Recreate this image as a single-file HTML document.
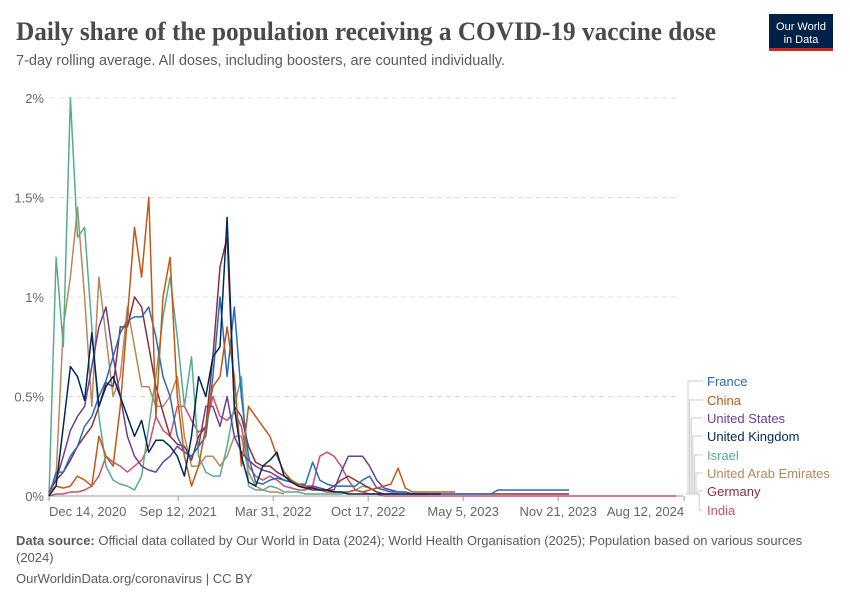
<!DOCTYPE html>
<html><head><meta charset="utf-8"><style>
body{margin:0;background:#fff;}
svg{display:block;font-family:"Liberation Sans",sans-serif;}
</style></head><body>
<svg id="chart" width="850" height="600" viewBox="0 0 850 600">
<text x="16" y="40" font-family="Liberation Serif,serif" font-weight="bold" font-size="26" fill="#4a4a4a" textLength="700" lengthAdjust="spacingAndGlyphs">Daily share of the population receiving a COVID-19 vaccine dose</text>
<text x="16" y="65" font-size="14.5" fill="#5b5b5b">7-day rolling average. All doses, including boosters, are counted individually.</text>
<g>
<rect x="769" y="14" width="64" height="36" fill="#002147"/>
<rect x="769" y="48" width="64" height="3" fill="#ce261e"/>
<text x="801" y="30" font-size="11" fill="#fff" text-anchor="middle">Our World</text>
<text x="801" y="43" font-size="11" fill="#fff" text-anchor="middle">in Data</text>
</g>
<g id="grid"></g>
<g id="yaxis"></g>
<g id="xaxis"></g>
<g id="lines"></g>
<g id="legend"></g>
<text x="16" y="545" font-size="13" fill="#5b5b5b"><tspan font-weight="bold">Data source:</tspan> Official data collated by Our World in Data (2024); World Health Organisation (2025); Population based on various sources</text>
<text x="16" y="562" font-size="13" fill="#5b5b5b">(2024)</text>
<text x="16" y="583" font-size="13" fill="#5b5b5b">OurWorldinData.org/coronavirus | CC BY</text>
</svg>
<script>
// Data: daily share (%) sampled every 15 days from Dec 14, 2020
const stepDays = 15;
const yTicks = [0, 0.5, 1, 1.5, 2];
const yTickLabels = ["0%", "0.5%", "1%", "1.5%", "2%"];
const xTickDays = [0, 272, 472, 672, 872, 1072, 1337];
const xTickLabels = ["Dec 14, 2020", "Sep 12, 2021", "Mar 31, 2022", "Oct 17, 2022", "May 5, 2023", "Nov 21, 2023", "Aug 12, 2024"];
const seriesNames = ["France", "China", "United States", "United Kingdom", "Israel", "United Arab Emirates", "Germany", "India"];
const seriesColors = ["#286bbb", "#c05917", "#6d3e91", "#00295b", "#58ac8c", "#b8875a", "#883039", "#cf4f6a"];
const france = [0,0.12,0.12,0.2,0.25,0.35,0.4,0.5,0.58,0.7,0.82,0.88,0.9,0.9,0.95,0.8,0.6,0.5,0.3,0.22,0.2,0.25,0.3,0.6,1.0,0.6,0.95,0.5,0.2,0.07,0.06,0.08,0.09,0.08,0.07,0.06,0.06,0.17,0.08,0.06,0.05,0.05,0.05,0.05,0.08,0.1,0.04,0.03,0.02,0.02,0.02,0.01,0.01,0.01,0.01,0.01,0.01,0.01,0.01,0.01,0.01,0.01,0.01,0.03,0.03,0.03,0.03,0.03,0.03,0.03,0.03,0.03,0.03,0.03];
const china = [0.02,0.05,0.04,0.05,0.1,0.08,0.05,0.3,0.2,0.15,0.45,0.9,1.35,1.1,1.5,0.4,1.0,1.2,0.5,0.2,0.05,0.15,0.35,0.55,0.6,0.85,0.6,0.15,0.45,0.4,0.35,0.3,0.2,0.12,0.08,0.06,0.05,0.04,0.03,0.02,0.02,0.02,0.02,0.03,0.02,0.03,0.04,0.05,0.06,0.14,0.04,0.02,0.02,0.02,0.02,0.02,0.02,0.02];
const us = [0.02,0.08,0.2,0.33,0.4,0.45,0.65,0.85,0.95,0.7,0.5,0.3,0.2,0.15,0.13,0.12,0.17,0.2,0.25,0.22,0.2,0.25,0.45,0.45,0.35,0.5,0.3,0.22,0.18,0.15,0.13,0.12,0.1,0.08,0.07,0.06,0.05,0.05,0.04,0.03,0.03,0.12,0.2,0.2,0.2,0.15,0.08,0.04,0.03,0.02,0.02,0.01,0.01,0.01];
const uk = [0,0.05,0.35,0.65,0.6,0.48,0.82,0.45,0.55,0.6,0.5,0.4,0.3,0.38,0.22,0.28,0.28,0.25,0.2,0.1,0.3,0.6,0.5,0.7,0.75,1.4,0.45,0.2,0.07,0.05,0.15,0.18,0.22,0.1,0.07,0.05,0.04,0.04,0.03,0.03,0.02,0.02,0.01,0.01,0.01,0.01,0.01,0.01,0.01,0.01,0.01,0.01,0.01,0.01,0.01,0.01];
const israel = [0,1.2,0.75,2.0,1.3,1.35,0.85,0.4,0.15,0.08,0.06,0.05,0.03,0.1,0.35,0.6,0.9,1.1,0.8,0.45,0.7,0.2,0.12,0.1,0.1,0.25,0.45,0.6,0.05,0.03,0.03,0.05,0.04,0.02,0.02,0.02,0.01,0.01,0.01,0.01,0.01,0.01,0.02,0.03,0.05,0.04,0.02,0.01,0.01,0.01];
const uae = [0.02,0.1,0.85,1.1,1.45,1.0,0.45,1.1,0.8,0.5,0.6,0.95,0.75,0.55,0.55,0.45,0.45,0.5,0.6,0.3,0.15,0.15,0.2,0.2,0.15,0.2,0.3,0.3,0.12,0.05,0.03,0.02,0.02,0.01];
const germany = [0.02,0.08,0.12,0.18,0.25,0.3,0.35,0.45,0.57,0.55,0.85,0.85,1.0,0.95,0.75,0.55,0.42,0.3,0.26,0.25,0.18,0.3,0.35,0.7,1.15,1.3,0.45,0.4,0.25,0.17,0.15,0.15,0.12,0.1,0.08,0.05,0.04,0.03,0.03,0.03,0.05,0.08,0.1,0.08,0.06,0.04,0.02,0.01,0.01,0.01,0.01,0.01,0.01,0.01,0.01,0.01,0.01,0.01,0.01,0.01,0.01,0.01,0.01,0.01,0.01,0.01,0.01,0.01,0.01,0.01,0.01,0.01,0.01,0.01];
const india = [0,0.01,0.01,0.02,0.02,0.03,0.05,0.1,0.2,0.17,0.15,0.12,0.15,0.18,0.25,0.4,0.33,0.3,0.45,0.45,0.38,0.32,0.35,0.5,0.4,0.38,0.42,0.35,0.15,0.1,0.08,0.1,0.08,0.05,0.04,0.03,0.03,0.05,0.2,0.22,0.2,0.15,0.08,0.03,0.02,0.01,0.01,0,0,0,0,0,0,0,0,0,0,0,0,0,0,0,0,0,0,0,0,0,0,0,0,0,0,0,0,0,0,0,0,0,0,0,0,0,0,0,0,0,0];
const seriesData = [france, china, us, uk, israel, uae, germany, india];

const NS = "http://www.w3.org/2000/svg";
const X0 = 49, PX_PER_DAY = 0.475, Y0 = 496, PX_PER_PCT = 199;
function xScale(d){ return X0 + d * PX_PER_DAY; }
function yScale(v){ return Y0 - v * PX_PER_PCT; }
function mk(tag, attrs, parent){ const e = document.createElementNS(NS, tag); for (const k in attrs) e.setAttribute(k, attrs[k]); parent.appendChild(e); return e; }

const grid = document.getElementById('grid'), yaxis = document.getElementById('yaxis'), xaxis = document.getElementById('xaxis');
yTicks.forEach((t, i) => {
  if (t > 0) {
    const g = mk('line', {x1: 50, x2: 680, y1: yScale(t), y2: yScale(t), stroke: '#ddd', 'stroke-dasharray': '5,4'}, grid);
    
    
  }
  const lb = mk('text', {x: 44, y: yScale(t) + 5, 'text-anchor': 'end', 'font-size': 13, fill: '#666'}, yaxis);
  lb.textContent = yTickLabels[i];
  
  
});
const ax = mk('line', {x1: 49, x2: 683, y1: Y0, y2: Y0, stroke: '#999'}, xaxis);


xTickDays.forEach((d, i) => {
  const x = xScale(d);
  const tk = mk('line', {x1: x, x2: x, y1: Y0, y2: Y0 + 5, stroke: '#999'}, xaxis);
  
  
  const anchor = i === 0 ? 'start' : (i === xTickDays.length - 1 ? 'end' : 'middle');
  const lb = mk('text', {x: x, y: Y0 + 20, 'text-anchor': anchor, 'font-size': 13, fill: '#666'}, xaxis);
  lb.textContent = xTickLabels[i];
  
  
});

const lines = document.getElementById('lines');
const drawOrder = [7, 5, 4, 2, 6, 0, 1, 3];
drawOrder.forEach(s => {
  const arr = seriesData[s];
  const pts = arr.map((v, i) => xScale(i * stepDays).toFixed(1) + ',' + yScale(v).toFixed(1)).join(' ');
  const pl = mk('polyline', {points: pts, fill: 'none', stroke: seriesColors[s], 'stroke-width': 1.5, 'stroke-linejoin': 'round'}, lines);
  
  
});

const legend = document.getElementById('legend');
const legY = [381, 400, 418, 436, 455, 473, 491, 510];
seriesNames.forEach((n, i) => {
  const bx = 688 + i * 1.6;
  const c = mk('polyline', {points: `685,494 ${bx},494 ${bx},${legY[i]} 703,${legY[i]}`, fill: 'none', stroke: '#ccc', 'stroke-width': 1}, legend);
  
  
  const t = mk('text', {x: 707, y: legY[i] + 5, 'font-size': 13, fill: seriesColors[i]}, legend);
  t.textContent = n;
  
  
});
</script>
</body></html>
